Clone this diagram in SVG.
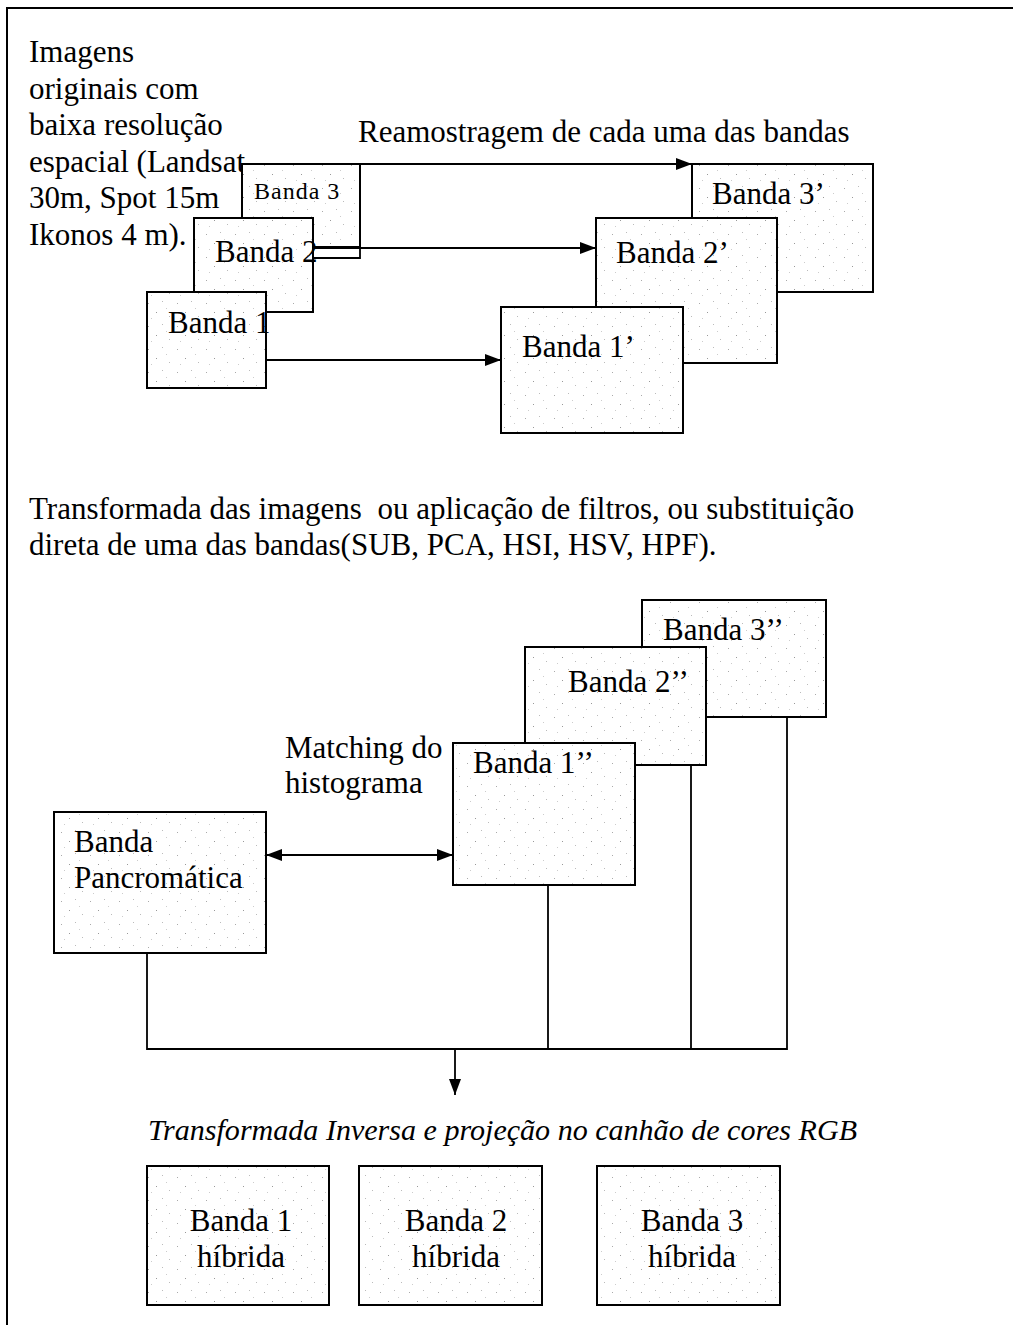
<svg xmlns="http://www.w3.org/2000/svg" width="1013" height="1325" viewBox="0 0 1013 1325">
<style>
text{font-family:"Liberation Serif","Times New Roman",serif;font-size:31px;fill:#000}
.sm{font-size:24px;letter-spacing:1px}
.it{font-style:italic;font-size:30px}
.box{fill:url(#speck);stroke:#000;stroke-width:2}
.ln{fill:none;stroke:#000;stroke-width:1.8}
.frame{fill:none;stroke:#000;stroke-width:2}
</style>
<defs>
<pattern id="speck" width="29" height="23" patternUnits="userSpaceOnUse">
<rect width="29" height="23" fill="#fff"/>
<rect x="3" y="4" width="1" height="1" fill="#aaa"/>
<rect x="17" y="2" width="1" height="1" fill="#bbb"/>
<rect x="11" y="13" width="1" height="1" fill="#999"/>
<rect x="24" y="17" width="1" height="1" fill="#bbb"/>
<rect x="6" y="19" width="1" height="1" fill="#ccc"/>
<rect x="21" y="9" width="1" height="1" fill="#ccc"/>
</pattern>
<marker id="ah" viewBox="0 0 16 12" refX="16" refY="6" markerWidth="16" markerHeight="12" markerUnits="userSpaceOnUse" orient="auto-start-reverse">
<path d="M0,0 L16,6 L0,12 Z" fill="#000"/>
</marker>
</defs>

<g id="frame">
<path class="frame" d="M7,1325 V8 H1013"/>
</g>

<g id="label-originais">
<text x="29" y="62">Imagens</text>
<text x="29" y="99">originais com</text>
<text x="29" y="135">baixa resolução</text>
<text x="29" y="172">espacial (Landsat</text>
<text x="29" y="208">30m, Spot 15m</text>
<text x="29" y="245">Ikonos 4 m).</text>
</g>

<g id="label-reamostragem">
<text x="358" y="142">Reamostragem de cada uma das bandas</text>
</g>

<g id="banda3">
<rect class="box" x="242" y="164" width="118" height="83"/>
<text class="sm" x="254" y="199">Banda 3</text>
</g>
<g id="banda2">
<rect class="box" x="194" y="218" width="119" height="94"/>
<text x="215" y="262">Banda 2</text>
</g>
<g id="banda1">
<rect class="box" x="147" y="292" width="119" height="96"/>
<text x="168" y="333">Banda 1</text>
</g>

<g id="banda3p">
<rect class="box" x="692" y="164" width="181" height="128"/>
<text x="712" y="204">Banda 3’</text>
</g>
<g id="banda2p">
<rect class="box" x="596" y="218" width="181" height="145"/>
<text x="616" y="263">Banda 2’</text>
</g>
<g id="banda1p">
<rect class="box" x="501" y="307" width="182" height="126"/>
<text x="522" y="357">Banda 1’</text>
</g>

<g id="label-transformada">
<text x="29" y="519" style="white-space:pre">Transformada das imagens  ou aplicação de filtros, ou substituição</text>
<text x="29" y="555">direta de uma das bandas(SUB, PCA, HSI, HSV, HPF).</text>
</g>

<g id="banda3pp">
<rect class="box" x="642" y="600" width="184" height="117"/>
<text x="663" y="640">Banda 3’’</text>
</g>
<g id="banda2pp">
<rect class="box" x="525" y="647" width="181" height="118"/>
<text x="568" y="692">Banda 2’’</text>
</g>
<g id="banda1pp">
<rect class="box" x="453" y="743" width="182" height="142"/>
<text x="473" y="773">Banda 1’’</text>
</g>

<g id="label-matching">
<text x="285" y="758">Matching do</text>
<text x="285" y="793">histograma</text>
</g>

<g id="pancromatica">
<rect class="box" x="54" y="812" width="212" height="141"/>
<text x="74" y="852">Banda</text>
<text x="74" y="888">Pancromática</text>
</g>

<g id="label-inversa">
<text class="it" x="148" y="1140" textLength="709" lengthAdjust="spacingAndGlyphs">Transformada Inversa e projeção no canhão de cores RGB</text>
</g>

<g id="hibrida1">
<rect class="box" x="147" y="1166" width="182" height="139"/>
<text x="241" y="1231" text-anchor="middle">Banda 1</text>
<text x="241" y="1267" text-anchor="middle">híbrida</text>
</g>
<g id="hibrida2">
<rect class="box" x="359" y="1166" width="183" height="139"/>
<text x="456" y="1231" text-anchor="middle">Banda 2</text>
<text x="456" y="1267" text-anchor="middle">híbrida</text>
</g>
<g id="hibrida3">
<rect class="box" x="597" y="1166" width="183" height="139"/>
<text x="692" y="1231" text-anchor="middle">Banda 3</text>
<text x="692" y="1267" text-anchor="middle">híbrida</text>
</g>

<g id="connectors">
<path class="ln" d="M313,258 H360 V164 H692" marker-end="url(#ah)"/>
<path class="ln" d="M313,248 H596" marker-end="url(#ah)"/>
<path class="ln" d="M266,360 H501" marker-end="url(#ah)"/>
<path class="ln" d="M266,855 H453" marker-start="url(#ah)" marker-end="url(#ah)"/>
<path class="ln" d="M147,953 V1049 H787 V717"/>
<path class="ln" d="M548,885 V1049"/>
<path class="ln" d="M691,765 V1049"/>
<path class="ln" d="M455,1049 V1095" marker-end="url(#ah)"/>
</g>
</svg>
